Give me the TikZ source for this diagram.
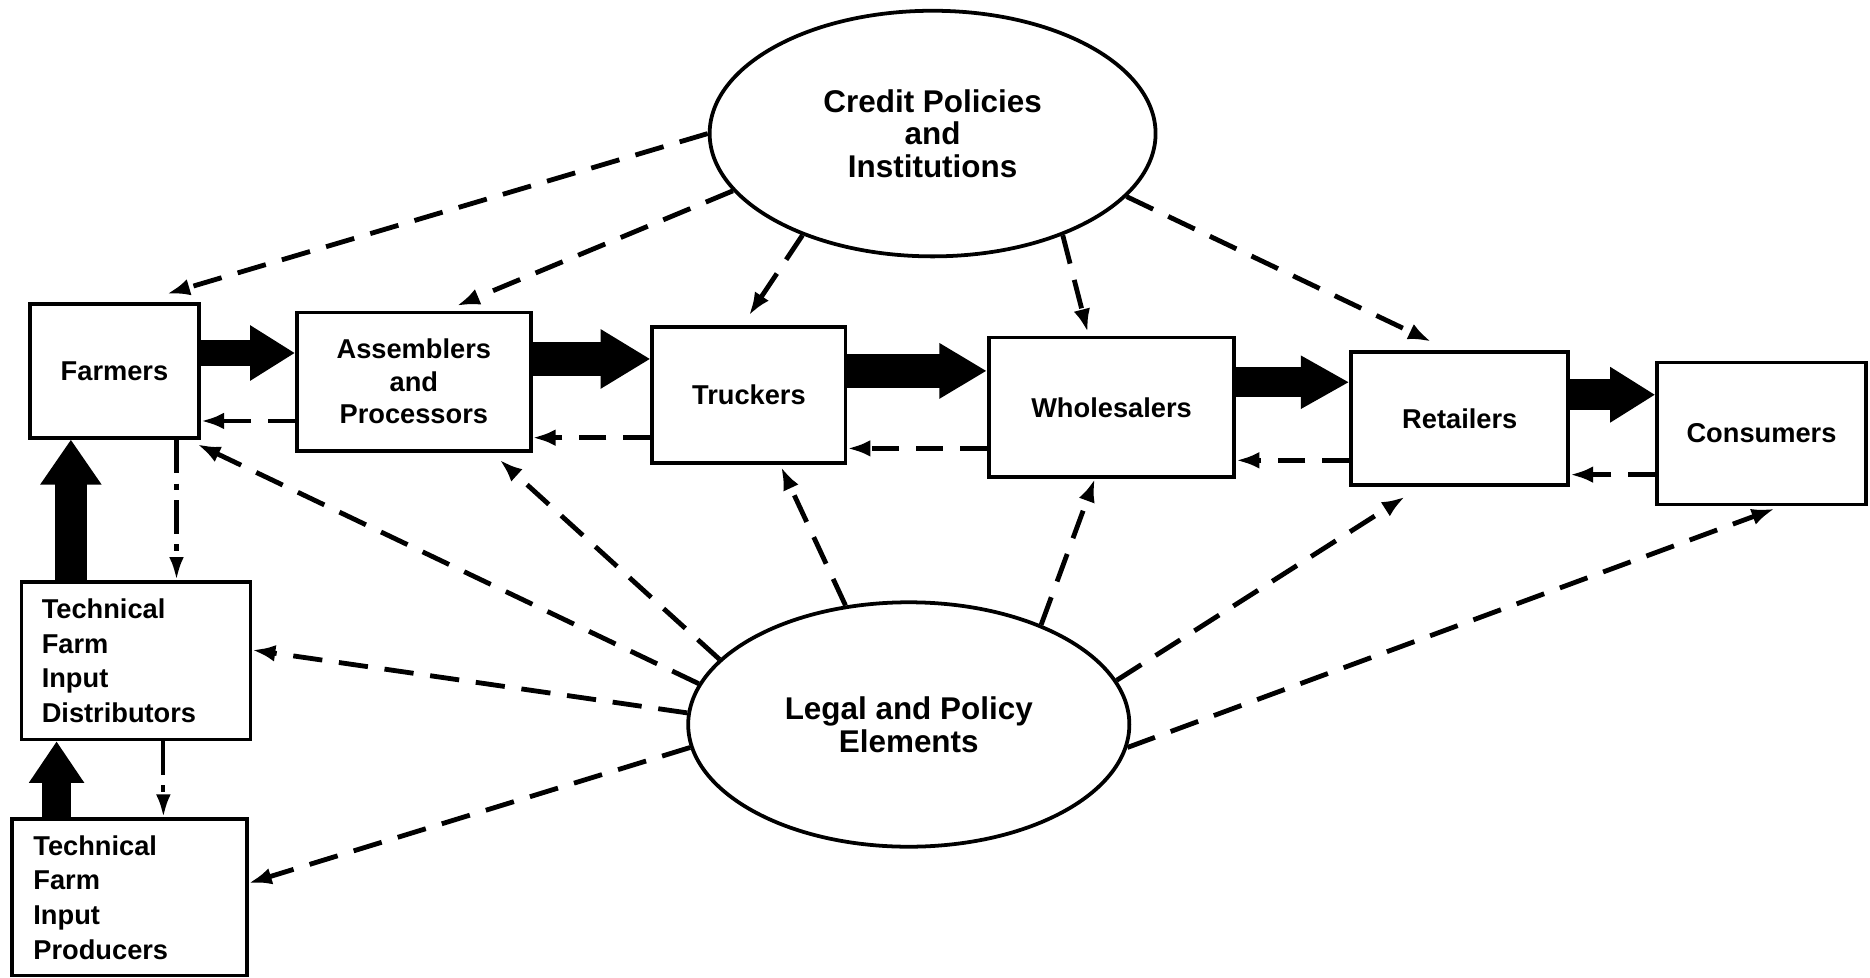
\documentclass[tikz,border=0pt]{standalone}
\usepackage{fontspec}
\setmainfont{Liberation Sans}
\usetikzlibrary{shapes.geometric,arrows.meta,calc}
\begin{document}
\begin{tikzpicture}[x=0.02cm,y=-0.02cm,
  box/.style={draw,line width=1.8pt,inner sep=0pt,font=\bfseries\fontsize{13}{15.5}\selectfont,align=center},
  lbox/.style={draw,line width=1.8pt,inner ysep=0pt,font=\bfseries\fontsize{13}{16.5}\selectfont,align=left},
  oval/.style={draw,ellipse,line width=1.8pt,inner sep=0pt,font=\bfseries\fontsize{15}{15.6}\selectfont,align=center},
  infl/.style={line width=2.3pt,dash pattern=on 14pt off 8pt,-{Latex[length=11pt,width=8pt]}},
  back/.style={line width=2.3pt,dash pattern=on 13pt off 8pt,-{Latex[length=11pt,width=8pt]}},
  dd/.style={line width=2pt,dash pattern=on 16pt off 5pt on 3pt off 5pt,-{Latex[length=11pt,width=7pt]}},
  flow/.style n args={3}{line width=#1,-{Triangle[length=#2,width=#3]}},
]
\useasboundingbox (0,0) rectangle (1568,820);

% ellipses
\node[oval,minimum width=7.48cm,minimum height=4.12cm] (credit) at (782,112) {Credit Policies\\and\\Institutions};
\node[oval,minimum width=7.4cm,minimum height=4.1cm] (legal) at (762,607.5) {Legal and Policy\\Elements};

% boxes
\node[box,minimum width=2.84cm,minimum height=2.24cm] (farm) at (96,311) {Farmers};
\node[box,minimum width=3.92cm,minimum height=2.32cm] (asm) at (347,320) {Assemblers\\and\\Processors};
\node[box,minimum width=3.24cm,minimum height=2.28cm] (truck) at (628,331) {Truckers};
\node[box,minimum width=4.12cm,minimum height=2.34cm] (whole) at (932,341.5) {Wholesalers};
\node[box,minimum width=3.64cm,minimum height=2.24cm] (ret) at (1224,351) {Retailers};
\node[box,minimum width=3.5cm,minimum height=2.38cm] (cons) at (1477,363.5) {Consumers};
\node[lbox,text width=3.16cm,inner xsep=0.34cm,minimum height=2.64cm] (dist) at (114,554) {Technical\\Farm\\Input\\Distributors};
\node[lbox,text width=3.22cm,inner xsep=0.36cm,minimum height=2.62cm] (prod) at (108.5,752.5) {Technical\\Farm\\Input\\Producers};

% thick product flows
\coordinate (fa) at ($(farm.east)+(0,-15)$);
\draw[flow={12.5pt}{21.5pt}{25pt}] (fa) -- (fa -| asm.west);
\coordinate (at) at ($(asm.east)+(0,-19)$);
\draw[flow={15.9pt}{23.8pt}{26.7pt}] (at) -- (at -| truck.west);
\coordinate (tw) at ($(truck.east)+(0,-20)$);
\draw[flow={15.9pt}{22.7pt}{25pt}] (tw) -- (tw -| whole.west);
\coordinate (wr) at ($(whole.east)+(0,-21)$);
\draw[flow={14.2pt}{23.2pt}{23.8pt}] (wr) -- (wr -| ret.west);
\coordinate (rc) at ($(ret.east)+(0,-20)$);
\draw[flow={14.7pt}{21.5pt}{25pt}] (rc) -- (rc -| cons.west);
\coordinate (df) at ($(dist.north west)+(43,0)$);
\draw[flow={15.3pt}{21.5pt}{27.8pt}] (df) -- (df |- farm.south);
\coordinate (pd) at ($(prod.north west)+(39,0)$);
\draw[flow={13.6pt}{19.8pt}{25pt}] (pd) -- (pd |- dist.south);

% dashed return flows
\coordinate (af) at ($(asm.west)+(0,33)$);
\draw[back] (af) -- (af -| farm.east);
\coordinate (ta) at ($(truck.west)+(0,36)$);
\draw[back] (ta) -- (ta -| asm.east);
\coordinate (wt) at ($(whole.west)+(0,34.5)$);
\draw[back] (wt) -- (wt -| truck.east);
\coordinate (rw) at ($(ret.west)+(0,35)$);
\draw[back] (rw) -- (rw -| whole.east);
\coordinate (cr) at ($(cons.west)+(0,34.5)$);
\draw[back] (cr) -- (cr -| ret.east);

% dash-dot downward flows
\coordinate (fd) at ($(farm.south)+(52,0)$);
\draw[dd] (fd) -- (fd |- dist.north);
\coordinate (dp) at ($(dist.south)+(23,0)$);
\draw[dd] (dp) -- (dp |- prod.north);

% credit influences
\draw[infl] (credit.180) -- ($(farm.north)+(44,-7)$);
\draw[infl] (credit.196) -- ($(asm.north)+(36,-4)$);
\draw[infl] (credit.218) -- ($(truck.north)+(0,-8)$);
\draw[infl] (credit.322) -- ($(whole.north)+(-20,-3)$);
\draw[infl] (credit.342) -- ($(ret.north)+(-24,-7)$);

% legal influences
\draw[infl] (legal.169) -- ($(farm.south east)+(-3,4)$);
\draw[infl] (legal.161) -- ($(asm.south)+(72,6)$);
\draw[infl] (legal.118) -- ($(truck.south)+(27,2)$);
\draw[infl] (legal.37) -- ($(whole.south)+(-14,0)$);
\draw[infl] (legal.12) -- ($(ret.south)+(-46,8)$);
\draw[infl] (legal.354) -- ($(cons.south)+(11,2)$);
\draw[infl] (legal.177) -- ($(dist.east)+(0,-9)$);
\draw[infl] (legal.186) -- ($(prod.east)+(0,-12)$);
\end{tikzpicture}
\end{document}
